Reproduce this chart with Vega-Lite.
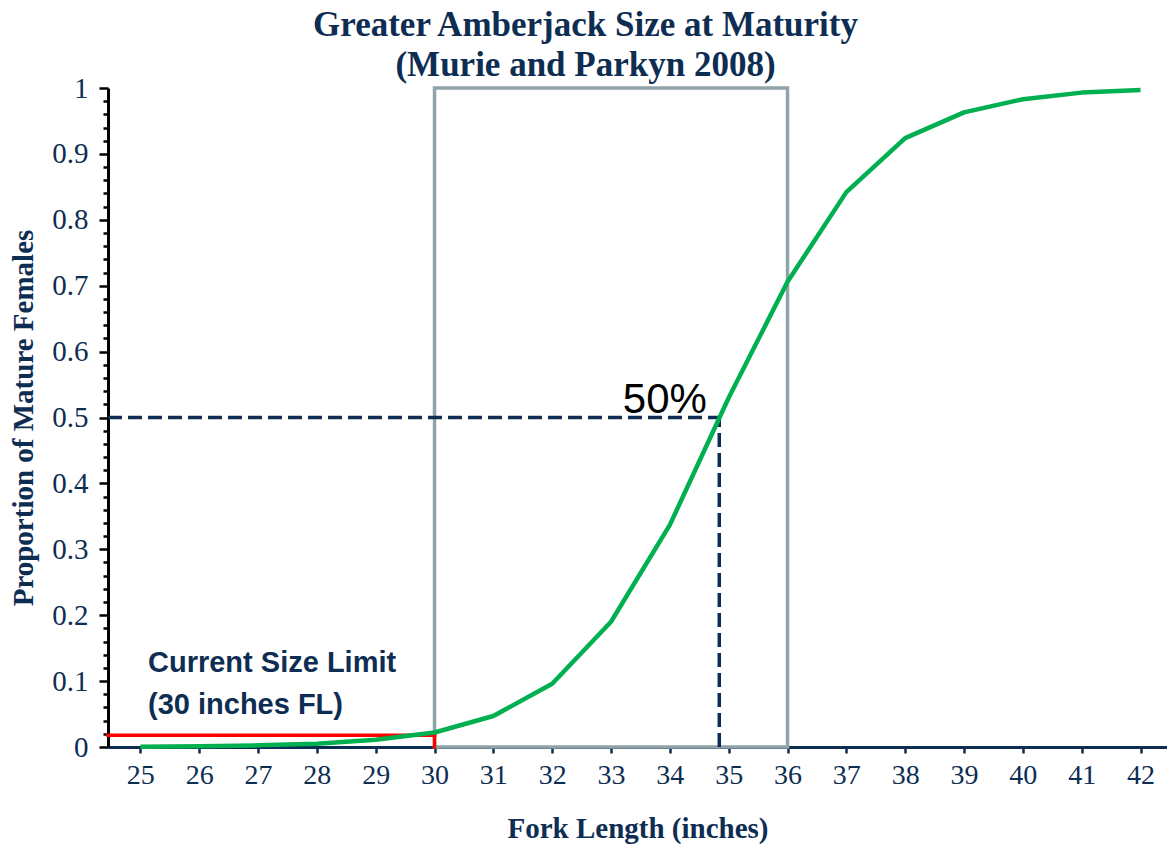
{
  "$schema": "https://vega.github.io/schema/vega-lite/v6.json",
  "width": 1059,
  "height": 659,
  "autosize": {"type": "none"},
  "padding": {"left": 108, "top": 88, "right": 0, "bottom": 99},
  "background": "white",
  "config": {"view": {"stroke": null}},
  "title": {
    "text": ["Greater Amberjack Size at Maturity", "(Murie and Parkyn 2008)"],
    "font": "Liberation Serif",
    "fontSize": 35,
    "fontWeight": "bold",
    "color": "#0E2D52",
    "anchor": "middle",
    "frame": "group",
    "offset": -9,
    "lineHeight": 40,
    "dx": -52
  },
  "datasets": {
    "maturity": [
      {"length": 25, "proportion": 0.0005},
      {"length": 26, "proportion": 0.001},
      {"length": 27, "proportion": 0.0025},
      {"length": 28, "proportion": 0.005},
      {"length": 29, "proportion": 0.011},
      {"length": 30, "proportion": 0.022},
      {"length": 31, "proportion": 0.047},
      {"length": 32, "proportion": 0.096},
      {"length": 33, "proportion": 0.19},
      {"length": 34, "proportion": 0.337},
      {"length": 35, "proportion": 0.53},
      {"length": 36, "proportion": 0.706},
      {"length": 37, "proportion": 0.842},
      {"length": 38, "proportion": 0.924},
      {"length": 39, "proportion": 0.963},
      {"length": 40, "proportion": 0.983},
      {"length": 41, "proportion": 0.993},
      {"length": 42, "proportion": 0.997}
    ],
    "one": [{}]
  },
  "resolve": {"scale": {"y": "shared"}, "axis": {"y": "independent"}},
  "layer": [
    {
      "data": {"name": "one"},
      "mark": {"type": "rect", "fillOpacity": 0, "stroke": "#8EA4A8", "strokeWidth": 3.5},
      "encoding": {
        "x": {
          "datum": 30,
          "type": "quantitative",
          "scale": {"domain": [24.45, 42.45], "nice": false, "zero": false},
          "axis": {
            "title": "Fork Length (inches)",
            "values": [25, 26, 27, 28, 29, 30, 31, 32, 33, 34, 35, 36, 37, 38, 39, 40, 41, 42],
            "format": "d",
            "grid": false,
            "domainColor": "#0E2D52",
            "domainWidth": 3,
            "tickColor": "#0E2D52",
            "tickWidth": 2.5,
            "tickSize": 6,
            "labelFont": "Liberation Serif",
            "labelFontSize": 28,
            "labelColor": "#0E2D52",
            "labelPadding": 8,
            "titleFont": "Liberation Serif",
            "titleFontSize": 29,
            "titleFontWeight": "bold",
            "titleColor": "#0E2D52",
            "titlePadding": 25
          }
        },
        "x2": {"datum": 36},
        "y": {
          "datum": 0,
          "type": "quantitative",
          "scale": {"domain": [0, 1], "nice": false},
          "axis": {
            "orient": "left",
            "title": "Proportion of Mature Females",
            "values": [0, 0.1, 0.2, 0.3, 0.4, 0.5, 0.6, 0.7, 0.8, 0.9, 1],
            "format": "~g",
            "grid": false,
            "domainColor": "#000000",
            "domainWidth": 3,
            "tickColor": "#000000",
            "tickWidth": 2.5,
            "tickSize": 9,
            "labelFont": "Liberation Serif",
            "labelFontSize": 29,
            "labelColor": "#0E2D52",
            "labelPadding": 11,
            "labelOverlap": false,
            "labelBound": false,
            "labelFlush": false,
            "titleFont": "Liberation Serif",
            "titleFontSize": 29,
            "titleFontWeight": "bold",
            "titleColor": "#0E2D52",
            "titlePadding": 13
          }
        },
        "y2": {"datum": 1}
      }
    },
    {
      "data": {"name": "one"},
      "mark": {"type": "rule", "color": "#0E2D52", "strokeWidth": 3.5, "strokeDash": [14, 6]},
      "encoding": {
        "x": {"datum": 24.45, "type": "quantitative"},
        "x2": {"datum": 34.84},
        "y": {
          "datum": 0.5,
          "type": "quantitative",
          "axis": {
            "orient": "left",
            "title": null,
            "values": [0.02, 0.04, 0.06, 0.08, 0.12, 0.14, 0.16, 0.18, 0.22, 0.24, 0.26, 0.28, 0.32, 0.34, 0.36, 0.38, 0.42, 0.44, 0.46, 0.48, 0.52, 0.54, 0.56, 0.58, 0.62, 0.64, 0.66, 0.68, 0.72, 0.74, 0.76, 0.78, 0.82, 0.84, 0.86, 0.88, 0.92, 0.94, 0.96, 0.98],
            "labels": false,
            "domain": false,
            "grid": false,
            "tickColor": "#000000",
            "tickWidth": 2.5,
            "tickSize": 5
          }
        }
      }
    },
    {
      "data": {"name": "one"},
      "mark": {"type": "rule", "color": "#0E2D52", "strokeWidth": 3.5, "strokeDash": [14, 6]},
      "encoding": {
        "x": {"datum": 34.84, "type": "quantitative"},
        "y": {"datum": 0, "type": "quantitative", "axis": null},
        "y2": {"datum": 0.5}
      }
    },
    {
      "data": {"name": "one"},
      "mark": {"type": "rule", "color": "#FF0000", "strokeWidth": 3.5, "strokeCap": "square"},
      "encoding": {
        "x": {"datum": 24.45, "type": "quantitative"},
        "x2": {"datum": 30},
        "y": {"datum": 0.018, "type": "quantitative", "axis": null}
      }
    },
    {
      "data": {"name": "one"},
      "mark": {"type": "rule", "color": "#FF0000", "strokeWidth": 3.5, "strokeCap": "square"},
      "encoding": {
        "x": {"datum": 30, "type": "quantitative"},
        "y": {"datum": 0, "type": "quantitative", "axis": null},
        "y2": {"datum": 0.018}
      }
    },
    {
      "data": {"name": "maturity"},
      "mark": {"type": "line", "color": "#00B050", "strokeWidth": 4.5, "strokeJoin": "round"},
      "encoding": {
        "x": {"field": "length", "type": "quantitative"},
        "y": {"field": "proportion", "type": "quantitative", "axis": null}
      }
    },
    {
      "data": {"name": "one"},
      "mark": {
        "type": "text",
        "text": ["Current Size Limit", "(30 inches FL)"],
        "font": "Liberation Sans",
        "fontWeight": "bold",
        "fontSize": 29,
        "lineHeight": 42,
        "color": "#0E2D52",
        "align": "left",
        "baseline": "middle"
      },
      "encoding": {
        "x": {"datum": 25.13, "type": "quantitative"},
        "y": {"datum": 0.127, "type": "quantitative", "axis": null}
      }
    },
    {
      "data": {"name": "one"},
      "mark": {
        "type": "text",
        "text": "50%",
        "font": "Liberation Sans",
        "fontSize": 42,
        "color": "#000000",
        "align": "right",
        "baseline": "alphabetic"
      },
      "encoding": {
        "x": {"datum": 34.63, "type": "quantitative"},
        "y": {"datum": 0.507, "type": "quantitative", "axis": null}
      }
    }
  ]
}
